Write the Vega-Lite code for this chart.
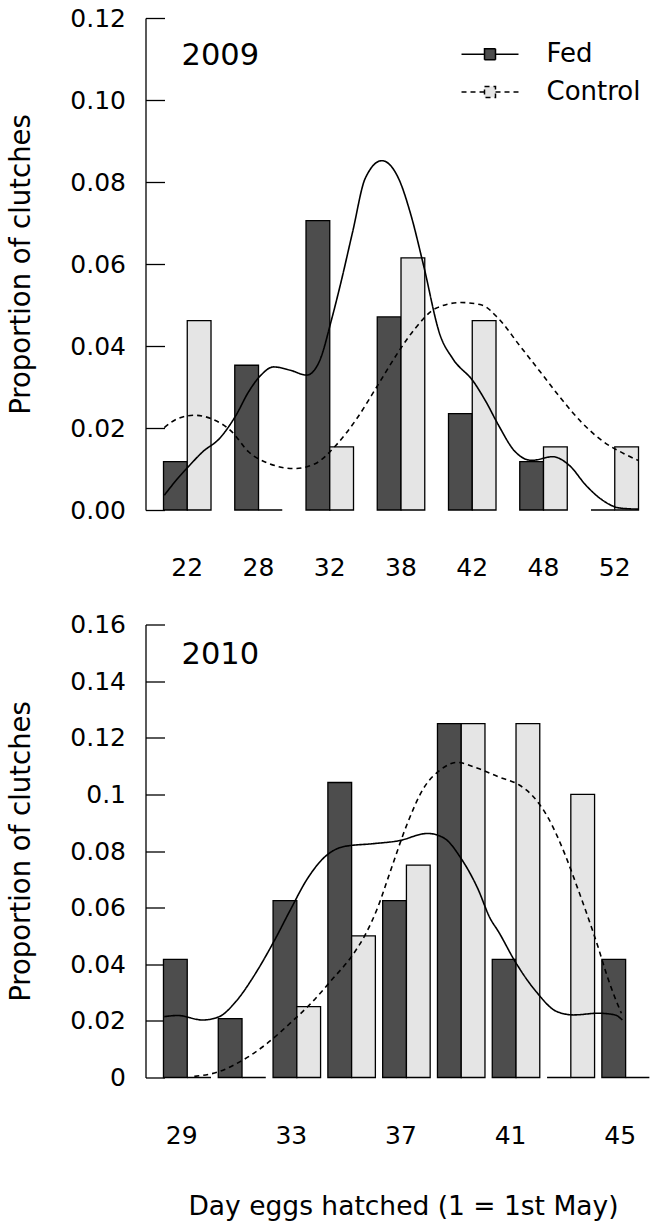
{
  "$schema": "https://vega.github.io/schema/vega-lite/v6.json",
  "padding": {"left": 6.5, "top": 6, "right": 0, "bottom": 0},
  "background": "white",
  "config": {
    "font": "DejaVu Sans",
    "view": {"stroke": null},
    "axis": {"labelFont": "DejaVu Sans", "titleFont": "DejaVu Sans", "labelColor": "black", "titleColor": "black", "domainColor": "black", "tickColor": "black", "grid": false, "titleFontWeight": "normal", "domainWidth": 1.3, "tickWidth": 1.3},
    "legend": {"labelFont": "DejaVu Sans", "labelColor": "black"}
  },
  "datasets": {
    "bars": [
      {"year": 2009, "day": 22, "treatment": "Fed", "proportion": 0.0118},
      {"year": 2009, "day": 28, "treatment": "Fed", "proportion": 0.0353},
      {"year": 2009, "day": 32, "treatment": "Fed", "proportion": 0.0706},
      {"year": 2009, "day": 38, "treatment": "Fed", "proportion": 0.0471},
      {"year": 2009, "day": 42, "treatment": "Fed", "proportion": 0.0235},
      {"year": 2009, "day": 48, "treatment": "Fed", "proportion": 0.0118},
      {"year": 2009, "day": 52, "treatment": "Fed", "proportion": 0},
      {"year": 2009, "day": 22, "treatment": "Control", "proportion": 0.0462},
      {"year": 2009, "day": 28, "treatment": "Control", "proportion": 0},
      {"year": 2009, "day": 32, "treatment": "Control", "proportion": 0.0154},
      {"year": 2009, "day": 38, "treatment": "Control", "proportion": 0.0615},
      {"year": 2009, "day": 42, "treatment": "Control", "proportion": 0.0462},
      {"year": 2009, "day": 48, "treatment": "Control", "proportion": 0.0154},
      {"year": 2009, "day": 52, "treatment": "Control", "proportion": 0.0154},
      {"year": 2010, "day": 29, "treatment": "Fed", "proportion": 0.0417},
      {"year": 2010, "day": 31, "treatment": "Fed", "proportion": 0.0208},
      {"year": 2010, "day": 33, "treatment": "Fed", "proportion": 0.0625},
      {"year": 2010, "day": 35, "treatment": "Fed", "proportion": 0.1042},
      {"year": 2010, "day": 37, "treatment": "Fed", "proportion": 0.0625},
      {"year": 2010, "day": 39, "treatment": "Fed", "proportion": 0.125},
      {"year": 2010, "day": 41, "treatment": "Fed", "proportion": 0.0417},
      {"year": 2010, "day": 43, "treatment": "Fed", "proportion": 0},
      {"year": 2010, "day": 45, "treatment": "Fed", "proportion": 0.0417},
      {"year": 2010, "day": 29, "treatment": "Control", "proportion": 0},
      {"year": 2010, "day": 31, "treatment": "Control", "proportion": 0},
      {"year": 2010, "day": 33, "treatment": "Control", "proportion": 0.025},
      {"year": 2010, "day": 35, "treatment": "Control", "proportion": 0.05},
      {"year": 2010, "day": 37, "treatment": "Control", "proportion": 0.075},
      {"year": 2010, "day": 39, "treatment": "Control", "proportion": 0.125},
      {"year": 2010, "day": 41, "treatment": "Control", "proportion": 0.125},
      {"year": 2010, "day": 43, "treatment": "Control", "proportion": 0.1},
      {"year": 2010, "day": 45, "treatment": "Control", "proportion": 0}
    ],
    "curves": [
      {"year": 2009, "treatment": "Fed", "pos": 0.678, "density": 0.0036},
      {"year": 2009, "treatment": "Fed", "pos": 0.866, "density": 0.0077},
      {"year": 2009, "treatment": "Fed", "pos": 1.023, "density": 0.0107},
      {"year": 2009, "treatment": "Fed", "pos": 1.217, "density": 0.0142},
      {"year": 2009, "treatment": "Fed", "pos": 1.45, "density": 0.0174},
      {"year": 2009, "treatment": "Fed", "pos": 1.684, "density": 0.0231},
      {"year": 2009, "treatment": "Fed", "pos": 1.86, "density": 0.0288},
      {"year": 2009, "treatment": "Fed", "pos": 2.035, "density": 0.0329},
      {"year": 2009, "treatment": "Fed", "pos": 2.211, "density": 0.0349},
      {"year": 2009, "treatment": "Fed", "pos": 2.445, "density": 0.0341},
      {"year": 2009, "treatment": "Fed", "pos": 2.678, "density": 0.0329},
      {"year": 2009, "treatment": "Fed", "pos": 2.853, "density": 0.0362},
      {"year": 2009, "treatment": "Fed", "pos": 3.029, "density": 0.0467},
      {"year": 2009, "treatment": "Fed", "pos": 3.147, "density": 0.0548},
      {"year": 2009, "treatment": "Fed", "pos": 3.322, "density": 0.0679},
      {"year": 2009, "treatment": "Fed", "pos": 3.498, "density": 0.0809},
      {"year": 2009, "treatment": "Fed", "pos": 3.731, "density": 0.0852},
      {"year": 2009, "treatment": "Fed", "pos": 3.965, "density": 0.0809},
      {"year": 2009, "treatment": "Fed", "pos": 4.14, "density": 0.0719},
      {"year": 2009, "treatment": "Fed", "pos": 4.316, "density": 0.0597},
      {"year": 2009, "treatment": "Fed", "pos": 4.55, "density": 0.0426},
      {"year": 2009, "treatment": "Fed", "pos": 4.723, "density": 0.037},
      {"year": 2009, "treatment": "Fed", "pos": 5.018, "density": 0.0313},
      {"year": 2009, "treatment": "Fed", "pos": 5.193, "density": 0.0264},
      {"year": 2009, "treatment": "Fed", "pos": 5.368, "density": 0.0207},
      {"year": 2009, "treatment": "Fed", "pos": 5.603, "density": 0.0142},
      {"year": 2009, "treatment": "Fed", "pos": 5.836, "density": 0.0121},
      {"year": 2009, "treatment": "Fed", "pos": 6.126, "density": 0.013},
      {"year": 2009, "treatment": "Fed", "pos": 6.362, "density": 0.0109},
      {"year": 2009, "treatment": "Fed", "pos": 6.597, "density": 0.006},
      {"year": 2009, "treatment": "Fed", "pos": 6.828, "density": 0.0024},
      {"year": 2009, "treatment": "Fed", "pos": 7.064, "density": 0.0005},
      {"year": 2009, "treatment": "Fed", "pos": 7.333, "density": 0.0002},
      {"year": 2009, "treatment": "Control", "pos": 0.678, "density": 0.0201},
      {"year": 2009, "treatment": "Control", "pos": 0.866, "density": 0.0223},
      {"year": 2009, "treatment": "Control", "pos": 1.099, "density": 0.0231},
      {"year": 2009, "treatment": "Control", "pos": 1.333, "density": 0.0223},
      {"year": 2009, "treatment": "Control", "pos": 1.625, "density": 0.0191},
      {"year": 2009, "treatment": "Control", "pos": 1.86, "density": 0.0142},
      {"year": 2009, "treatment": "Control", "pos": 2.152, "density": 0.0113},
      {"year": 2009, "treatment": "Control", "pos": 2.503, "density": 0.0101},
      {"year": 2009, "treatment": "Control", "pos": 2.796, "density": 0.0113},
      {"year": 2009, "treatment": "Control", "pos": 3.088, "density": 0.0158},
      {"year": 2009, "treatment": "Control", "pos": 3.38, "density": 0.0223},
      {"year": 2009, "treatment": "Control", "pos": 3.673, "density": 0.0304},
      {"year": 2009, "treatment": "Control", "pos": 3.965, "density": 0.0386},
      {"year": 2009, "treatment": "Control", "pos": 4.199, "density": 0.0443},
      {"year": 2009, "treatment": "Control", "pos": 4.491, "density": 0.0492},
      {"year": 2009, "treatment": "Control", "pos": 4.842, "density": 0.0506},
      {"year": 2009, "treatment": "Control", "pos": 5.134, "density": 0.05},
      {"year": 2009, "treatment": "Control", "pos": 5.368, "density": 0.0467},
      {"year": 2009, "treatment": "Control", "pos": 5.661, "density": 0.0402},
      {"year": 2009, "treatment": "Control", "pos": 5.954, "density": 0.0337},
      {"year": 2009, "treatment": "Control", "pos": 6.246, "density": 0.0272},
      {"year": 2009, "treatment": "Control", "pos": 6.538, "density": 0.0213},
      {"year": 2009, "treatment": "Control", "pos": 6.831, "density": 0.0168},
      {"year": 2009, "treatment": "Control", "pos": 7.123, "density": 0.0138},
      {"year": 2009, "treatment": "Control", "pos": 7.328, "density": 0.0121},
      {"year": 2010, "treatment": "Fed", "pos": 0.681, "density": 0.0215},
      {"year": 2010, "treatment": "Fed", "pos": 0.926, "density": 0.0219},
      {"year": 2010, "treatment": "Fed", "pos": 1.382, "density": 0.0203},
      {"year": 2010, "treatment": "Fed", "pos": 1.685, "density": 0.0215},
      {"year": 2010, "treatment": "Fed", "pos": 1.99, "density": 0.0269},
      {"year": 2010, "treatment": "Fed", "pos": 2.369, "density": 0.0375},
      {"year": 2010, "treatment": "Fed", "pos": 2.674, "density": 0.0478},
      {"year": 2010, "treatment": "Fed", "pos": 2.979, "density": 0.0591},
      {"year": 2010, "treatment": "Fed", "pos": 3.276, "density": 0.0697},
      {"year": 2010, "treatment": "Fed", "pos": 3.587, "density": 0.0775},
      {"year": 2010, "treatment": "Fed", "pos": 3.966, "density": 0.0816},
      {"year": 2010, "treatment": "Fed", "pos": 4.499, "density": 0.0826},
      {"year": 2010, "treatment": "Fed", "pos": 4.955, "density": 0.0836},
      {"year": 2010, "treatment": "Fed", "pos": 5.488, "density": 0.0862},
      {"year": 2010, "treatment": "Fed", "pos": 5.791, "density": 0.0845},
      {"year": 2010, "treatment": "Fed", "pos": 6.096, "density": 0.0774},
      {"year": 2010, "treatment": "Fed", "pos": 6.4, "density": 0.0668},
      {"year": 2010, "treatment": "Fed", "pos": 6.628, "density": 0.0562},
      {"year": 2010, "treatment": "Fed", "pos": 6.78, "density": 0.0515},
      {"year": 2010, "treatment": "Fed", "pos": 7.085, "density": 0.0409},
      {"year": 2010, "treatment": "Fed", "pos": 7.464, "density": 0.0304},
      {"year": 2010, "treatment": "Fed", "pos": 7.844, "density": 0.0233},
      {"year": 2010, "treatment": "Fed", "pos": 8.148, "density": 0.0221},
      {"year": 2010, "treatment": "Fed", "pos": 8.605, "density": 0.0227},
      {"year": 2010, "treatment": "Fed", "pos": 8.909, "density": 0.0221},
      {"year": 2010, "treatment": "Fed", "pos": 9.039, "density": 0.0203},
      {"year": 2010, "treatment": "Control", "pos": 1.229, "density": 0.0004},
      {"year": 2010, "treatment": "Control", "pos": 1.685, "density": 0.0021},
      {"year": 2010, "treatment": "Control", "pos": 2.066, "density": 0.0056},
      {"year": 2010, "treatment": "Control", "pos": 2.522, "density": 0.0115},
      {"year": 2010, "treatment": "Control", "pos": 2.979, "density": 0.0192},
      {"year": 2010, "treatment": "Control", "pos": 3.358, "density": 0.0262},
      {"year": 2010, "treatment": "Control", "pos": 3.738, "density": 0.0345},
      {"year": 2010, "treatment": "Control", "pos": 4.119, "density": 0.0433},
      {"year": 2010, "treatment": "Control", "pos": 4.347, "density": 0.0504},
      {"year": 2010, "treatment": "Control", "pos": 4.575, "density": 0.06},
      {"year": 2010, "treatment": "Control", "pos": 4.804, "density": 0.0727},
      {"year": 2010, "treatment": "Control", "pos": 5.106, "density": 0.0892},
      {"year": 2010, "treatment": "Control", "pos": 5.411, "density": 0.1021},
      {"year": 2010, "treatment": "Control", "pos": 5.716, "density": 0.1086},
      {"year": 2010, "treatment": "Control", "pos": 6.019, "density": 0.1113},
      {"year": 2010, "treatment": "Control", "pos": 6.4, "density": 0.1092},
      {"year": 2010, "treatment": "Control", "pos": 6.78, "density": 0.1062},
      {"year": 2010, "treatment": "Control", "pos": 7.159, "density": 0.1033},
      {"year": 2010, "treatment": "Control", "pos": 7.387, "density": 0.0998},
      {"year": 2010, "treatment": "Control", "pos": 7.692, "density": 0.0915},
      {"year": 2010, "treatment": "Control", "pos": 7.997, "density": 0.0786},
      {"year": 2010, "treatment": "Control", "pos": 8.225, "density": 0.0668},
      {"year": 2010, "treatment": "Control", "pos": 8.377, "density": 0.0586},
      {"year": 2010, "treatment": "Control", "pos": 8.605, "density": 0.0456},
      {"year": 2010, "treatment": "Control", "pos": 8.756, "density": 0.0362},
      {"year": 2010, "treatment": "Control", "pos": 8.909, "density": 0.028},
      {"year": 2010, "treatment": "Control", "pos": 9.022, "density": 0.0227}
    ]
  },
  "bounds": "flush",
  "spacing": 114.5,
  "resolve": {"scale": {"x": "independent", "y": "independent", "fill": "shared", "strokeDash": "shared"}},
  "vconcat": [
    {
      "width": 502,
      "height": 492,
      "title": {"text": "2009", "anchor": "start", "frame": "group", "orient": "top", "offset": -89.6, "baseline": "alphabetic", "dx": 36, "fontSize": 30.5, "font": "DejaVu Sans", "fontWeight": "normal", "color": "black"},
      "layer": [
        {
          "data": {"name": "bars"},
          "transform": [{"filter": "datum.year == 2009"}],
          "mark": {"type": "bar", "stroke": "black", "strokeWidth": 1.3},
          "encoding": {
            "x": {"field": "day", "type": "ordinal", "scale": {"paddingInner": 0.3333, "paddingOuter": 0.1895, "align": 0.667},
                  "axis": {"title": null, "ticks": false, "tickSize": 0, "domain": false, "labelPadding": 65, "labelBaseline": "alphabetic", "labelFontSize": 25, "labelAngle": 0}},
            "xOffset": {"field": "treatment", "type": "nominal", "sort": ["Fed", "Control"], "scale": {"paddingInner": 0, "paddingOuter": 0}},
            "y": {"field": "proportion", "type": "quantitative", "scale": {"domain": [0, 0.12], "nice": false},
                  "axis": {"title": "Proportion of clutches", "values": [0, 0.02, 0.04, 0.06, 0.08, 0.1, 0.12], "format": ".2f", "tickSize": -19, "labelPadding": 39, "labelFontSize": 25, "titleFontSize": 27.5, "titleX": -124.5, "titleY": 246, "titleAlign": "center", "titleBaseline": "middle", "titleAngle": 270}},
            "fill": {"field": "treatment", "type": "nominal", "sort": ["Fed", "Control"],
                     "scale": {"domain": ["Fed", "Control"], "range": ["#4d4d4d", "#e5e5e5"]},
                     "legend": {"orient": "none", "legendX": 329.5, "legendY": 21.2, "title": null, "padding": 0,
                                "symbolType": "M-2,0H-0.386M0.386,0H2M-0.386,-0.386H0.386V0.386H-0.386Z",
                                "symbolSize": 812, "symbolStrokeColor": "black", "symbolStrokeWidth": 1.5, "symbolOpacity": 1,
                                "labelFontSize": 26, "labelOffset": 41.5, "rowPadding": 9.7,
                                "encode": {"symbols": {"update": {"strokeDash": {"signal": "datum.value === 'Control' ? [5, 4] : [1, 0]"}, "stroke": {"value": "black"}}}}}}
          }
        },
        {
          "data": {"name": "curves"},
          "transform": [{"filter": "datum.year == 2009"}],
          "mark": {"type": "line", "color": "black", "strokeWidth": 1.6, "interpolate": "monotone"},
          "encoding": {
            "x": {"field": "pos", "type": "quantitative", "scale": {"domain": [0.414, 7.4596], "nice": false, "zero": false}, "axis": null},
            "y": {"field": "density", "type": "quantitative",
                  "axis": {"title": "Proportion of clutches", "values": [0, 0.02, 0.04, 0.06, 0.08, 0.1, 0.12], "format": ".2f", "tickSize": -19, "labelPadding": 39, "labelFontSize": 25, "titleFontSize": 27.5, "titleX": -124.5, "titleY": 246, "titleAlign": "center", "titleBaseline": "middle", "titleAngle": 270}},
            "strokeDash": {"field": "treatment", "type": "nominal", "scale": {"domain": ["Fed", "Control"], "range": [[1, 0], [5, 4]]}, "legend": null},
            "order": {"field": "pos", "type": "quantitative"}
          }
        }
      ],
      "resolve": {"scale": {"x": "independent"}}
    },
    {
      "width": 502,
      "height": 453,
      "title": {"text": "2010", "anchor": "start", "frame": "group", "orient": "top", "offset": -81.6, "baseline": "alphabetic", "dx": 36, "fontSize": 30.5, "font": "DejaVu Sans", "fontWeight": "normal", "color": "black"},
      "layer": [
        {
          "data": {"name": "bars"},
          "transform": [{"filter": "datum.year == 2010"}],
          "mark": {"type": "bar", "stroke": "black", "strokeWidth": 1.3},
          "encoding": {
            "x": {"field": "day", "type": "ordinal", "scale": {"paddingInner": 0.3333, "paddingOuter": 0.247, "align": 0.664},
                  "axis": {"title": "Day eggs hatched (1 = 1st May)", "values": [29, 33, 37, 41, 45], "ticks": false, "tickSize": 0, "domain": false, "labelPadding": 65.7, "labelBaseline": "alphabetic", "labelFontSize": 25, "labelAngle": 0,
                           "titleFontSize": 26.5, "titleX": 257.5, "titleY": 137.4, "titleBaseline": "alphabetic", "titleAlign": "center"}},
            "xOffset": {"field": "treatment", "type": "nominal", "sort": ["Fed", "Control"], "scale": {"paddingInner": 0, "paddingOuter": 0}},
            "y": {"field": "proportion", "type": "quantitative", "scale": {"domain": [0, 0.16], "nice": false},
                  "axis": {"title": "Proportion of clutches", "values": [0, 0.02, 0.04, 0.06, 0.08, 0.1, 0.12, 0.14, 0.16], "format": "~g", "tickSize": -19, "labelPadding": 39, "labelFontSize": 25, "titleFontSize": 27.5, "titleX": -124.5, "titleY": 226.5, "titleAlign": "center", "titleBaseline": "middle", "titleAngle": 270}},
            "fill": {"field": "treatment", "type": "nominal", "sort": ["Fed", "Control"]}
          }
        },
        {
          "data": {"name": "curves"},
          "transform": [{"filter": "datum.year == 2010"}],
          "mark": {"type": "line", "color": "black", "strokeWidth": 1.6, "interpolate": "monotone"},
          "encoding": {
            "x": {"field": "pos", "type": "quantitative", "scale": {"domain": [0.3382, 9.4989], "nice": false, "zero": false}, "axis": null},
            "y": {"field": "density", "type": "quantitative",
                  "axis": {"title": "Proportion of clutches", "values": [0, 0.02, 0.04, 0.06, 0.08, 0.1, 0.12, 0.14, 0.16], "format": "~g", "tickSize": -19, "labelPadding": 39, "labelFontSize": 25, "titleFontSize": 27.5, "titleX": -124.5, "titleY": 226.5, "titleAlign": "center", "titleBaseline": "middle", "titleAngle": 270}},
            "strokeDash": {"field": "treatment", "type": "nominal"},
            "order": {"field": "pos", "type": "quantitative"}
          }
        }
      ],
      "resolve": {"scale": {"x": "independent"}}
    }
  ]
}
